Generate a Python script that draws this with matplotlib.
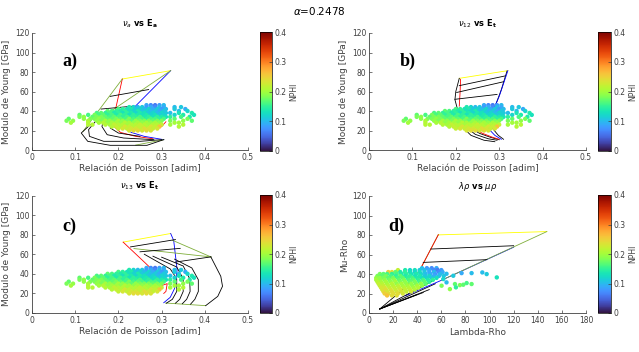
import matplotlib
matplotlib.use("Agg")
import matplotlib.pyplot as plt
import numpy as np

# ---- scatter cloud shared by panels a, b, c (Poisson vs Young) ----
# one entry per y level: the x values and the NPHI of each point
row_y = [46, 44, 42, 40, 38, 36, 34, 32, 30, 28, 26, 24, 22, 20]
row_x = [
    [0.265, 0.275, 0.285, 0.295, 0.305],
    [0.225, 0.235, 0.245, 0.255, 0.265, 0.275, 0.285, 0.295, 0.305, 0.33, 0.345],
    [0.20, 0.21, 0.22, 0.23, 0.24, 0.25, 0.26, 0.27, 0.28, 0.29, 0.30, 0.31, 0.33, 0.355],
    [0.175, 0.185, 0.195, 0.205, 0.215, 0.225, 0.235, 0.245, 0.255, 0.265, 0.275, 0.285,
     0.295, 0.305, 0.34, 0.36],
    [0.15, 0.16, 0.17, 0.18, 0.19, 0.20, 0.21, 0.22, 0.23, 0.24, 0.25, 0.26, 0.27, 0.28,
     0.29, 0.30, 0.31, 0.32, 0.34, 0.37],
    [0.11, 0.13, 0.145, 0.155, 0.165, 0.175, 0.185, 0.195, 0.205, 0.215, 0.225, 0.235,
     0.245, 0.255, 0.265, 0.275, 0.285, 0.295, 0.305, 0.33, 0.35, 0.375],
    [0.11, 0.12, 0.14, 0.15, 0.16, 0.17, 0.18, 0.19, 0.20, 0.21, 0.22, 0.23, 0.24, 0.25,
     0.26, 0.27, 0.28, 0.29, 0.30, 0.31, 0.32, 0.345, 0.365],
    [0.085, 0.12, 0.135, 0.145, 0.155, 0.165, 0.175, 0.185, 0.195, 0.205, 0.215, 0.225,
     0.235, 0.245, 0.255, 0.265, 0.275, 0.285, 0.295, 0.305, 0.33, 0.36],
    [0.08, 0.095, 0.13, 0.15, 0.16, 0.17, 0.18, 0.19, 0.20, 0.21, 0.22, 0.23, 0.24, 0.25,
     0.26, 0.27, 0.28, 0.29, 0.30, 0.32, 0.35, 0.37],
    [0.09, 0.13, 0.155, 0.165, 0.175, 0.185, 0.195, 0.205, 0.215, 0.225, 0.235, 0.245,
     0.255, 0.265, 0.275, 0.285, 0.295, 0.33, 0.34],
    [0.13, 0.14, 0.17, 0.18, 0.19, 0.20, 0.21, 0.22, 0.23, 0.24, 0.25, 0.26, 0.27, 0.28,
     0.29, 0.30, 0.32, 0.35],
    [0.185, 0.195, 0.205, 0.215, 0.225, 0.235, 0.245, 0.255, 0.265, 0.275, 0.285, 0.295, 0.34],
    [0.20, 0.21, 0.22, 0.23, 0.24, 0.25, 0.26, 0.27, 0.28, 0.29],
    [0.225, 0.235, 0.245, 0.255, 0.265, 0.275],
]
row_phi = [
    [0.09, 0.07, 0.06, 0.08, 0.10],
    [0.14, 0.12, 0.10, 0.11, 0.08, 0.09, 0.07, 0.10, 0.09, 0.10, 0.11],
    [0.16, 0.15, 0.13, 0.14, 0.11, 0.12, 0.10, 0.12, 0.09, 0.11, 0.08, 0.10, 0.11, 0.09],
    [0.17, 0.16, 0.15, 0.14, 0.15, 0.13, 0.12, 0.14, 0.11, 0.12, 0.10, 0.11, 0.09, 0.11,
     0.10, 0.12],
    [0.16, 0.17, 0.15, 0.16, 0.14, 0.15, 0.13, 0.15, 0.14, 0.12, 0.14, 0.13, 0.11, 0.12,
     0.10, 0.12, 0.11, 0.10, 0.13, 0.14],
    [0.17, 0.16, 0.18, 0.16, 0.17, 0.15, 0.16, 0.14, 0.16, 0.15, 0.13, 0.15, 0.14, 0.13,
     0.14, 0.12, 0.13, 0.11, 0.12, 0.12, 0.14, 0.13],
    [0.18, 0.19, 0.17, 0.18, 0.18, 0.17, 0.16, 0.17, 0.16, 0.15, 0.16, 0.15, 0.15, 0.16,
     0.14, 0.15, 0.13, 0.15, 0.14, 0.13, 0.15, 0.16, 0.14],
    [0.17, 0.19, 0.18, 0.18, 0.19, 0.18, 0.17, 0.17, 0.18, 0.17, 0.16, 0.18, 0.16, 0.17,
     0.16, 0.15, 0.16, 0.16, 0.15, 0.16, 0.17, 0.18],
    [0.18, 0.19, 0.20, 0.19, 0.18, 0.20, 0.19, 0.18, 0.20, 0.19, 0.18, 0.17, 0.19, 0.18,
     0.18, 0.18, 0.17, 0.18, 0.18, 0.18, 0.19, 0.17],
    [0.20, 0.21, 0.20, 0.21, 0.19, 0.20, 0.20, 0.19, 0.21, 0.20, 0.19, 0.20, 0.19, 0.20,
     0.19, 0.20, 0.19, 0.20, 0.20],
    [0.21, 0.21, 0.21, 0.20, 0.22, 0.21, 0.21, 0.20, 0.21, 0.21, 0.22, 0.21, 0.20, 0.21,
     0.21, 0.22, 0.20, 0.21],
    [0.21, 0.22, 0.21, 0.23, 0.22, 0.21, 0.22, 0.22, 0.21, 0.23, 0.22, 0.26, 0.21],
    [0.22, 0.23, 0.22, 0.23, 0.23, 0.22, 0.24, 0.23, 0.22, 0.23],
    [0.23, 0.24, 0.24, 0.23, 0.24, 0.23],
]

# ---- scatter cloud of panel d (Lambda-Rho vs Mu-Rho) ----
d_row_y = [46, 44, 42, 40, 38, 36, 34, 32, 30, 28, 26, 24, 22, 20, 18]
d_row_x = [
    [44, 48, 52, 56],
    [24, 30, 34, 38, 42, 46, 50, 54, 57, 60],
    [16, 19, 22, 26, 30, 34, 38, 42, 46, 50, 54, 58, 61],
    [9, 12, 15, 19, 23, 27, 31, 35, 39, 43, 47, 51, 55, 59],
    [7, 10, 14, 18, 22, 26, 30, 34, 38, 42, 46, 50, 54, 58, 62],
    [6, 9, 12, 16, 20, 24, 28, 32, 36, 40, 44, 48, 52, 56],
    [6, 9, 13, 17, 21, 25, 29, 33, 37, 41, 45, 49, 53],
    [7, 10, 14, 18, 22, 26, 30, 34, 38, 42, 46, 50],
    [8, 11, 15, 19, 23, 27, 31, 35, 39, 43, 47],
    [9, 12, 16, 20, 24, 28, 32, 36, 40, 44],
    [10, 13, 17, 21, 25, 29, 33, 37, 41],
    [11, 14, 18, 22, 26, 30, 34, 38],
    [12, 15, 19, 23, 27, 31, 35],
    [13, 16, 20, 24, 28],
    [15, 19, 23],
]
d_row_phi = [
    [0.10, 0.08, 0.07, 0.09],
    [0.22, 0.14, 0.12, 0.13, 0.11, 0.10, 0.09, 0.07, 0.06, 0.08],
    [0.25, 0.24, 0.17, 0.14, 0.15, 0.13, 0.12, 0.13, 0.11, 0.09, 0.10, 0.07, 0.09],
    [0.18, 0.17, 0.16, 0.15, 0.16, 0.14, 0.15, 0.13, 0.14, 0.12, 0.10, 0.09, 0.08, 0.10],
    [0.18, 0.17, 0.18, 0.16, 0.15, 0.17, 0.14, 0.15, 0.13, 0.14, 0.11, 0.12, 0.09, 0.10, 0.11],
    [0.19, 0.19, 0.18, 0.17, 0.18, 0.16, 0.17, 0.15, 0.16, 0.14, 0.13, 0.12, 0.11, 0.13],
    [0.20, 0.19, 0.19, 0.18, 0.19, 0.17, 0.18, 0.16, 0.17, 0.15, 0.16, 0.14, 0.15],
    [0.21, 0.20, 0.20, 0.19, 0.20, 0.18, 0.19, 0.17, 0.18, 0.16, 0.17, 0.15],
    [0.22, 0.21, 0.20, 0.21, 0.19, 0.20, 0.19, 0.19, 0.18, 0.19, 0.17],
    [0.22, 0.22, 0.21, 0.21, 0.21, 0.20, 0.20, 0.19, 0.20, 0.19],
    [0.23, 0.23, 0.22, 0.22, 0.22, 0.21, 0.21, 0.20, 0.21],
    [0.23, 0.24, 0.23, 0.22, 0.23, 0.22, 0.22, 0.21],
    [0.24, 0.23, 0.24, 0.23, 0.23, 0.22, 0.23],
    [0.25, 0.24, 0.24, 0.24, 0.23],
    [0.26, 0.24, 0.24],
]
d_out_x = [64.3, 69.9, 76.8, 85.1, 94.0, 97.6, 106.0, 61.6, 64.3,
           71.3, 75.4, 78.2, 81.0, 85.1, 72.1, 60.2, 67.1]
d_out_y = [40.2, 38.2, 40.9, 40.9, 41.6, 39.9, 36.5, 34.8, 31.4,
           29.7, 28.6, 29.0, 30.7, 29.7, 26.3, 28.0, 24.5]
d_out_phi = [0.10, 0.11, 0.09, 0.10, 0.10, 0.11, 0.13, 0.12, 0.10,
             0.17, 0.18, 0.17, 0.16, 0.17, 0.15, 0.18, 0.19]

# ---- template lines (color, x, y) ----
GREEN = '#7fae3a'
a_lines = [
    ('#ffff00', [0.209, 0.321], [72.8, 81.4]),
    ('red', [0.209, 0.193, 0.19, 0.19, 0.205, 0.24, 0.28], [72.8, 41, 30, 24, 18, 14, 11.5]),
    ('red', [0.300, 0.310], [24, 29]),
    ('blue', [0.321, 0.235, 0.21, 0.21, 0.23, 0.26, 0.305], [81.4, 43, 30, 24, 18, 14, 10.6]),
    (GREEN, [0.209, 0.118], [72.8, 19]),
    (GREEN, [0.321, 0.15], [81.4, 30]),
    (GREEN, [0.24, 0.305], [5, 10.6]),
    ('k', [0.181, 0.27], [55, 62]),
    ('k', [0.16, 0.235], [42, 45]),
    ('k', [0.135, 0.114, 0.129, 0.181, 0.266, 0.305], [26, 17.4, 8.9, 4.8, 4.8, 10.6]),
    ('k', [0.150, 0.131, 0.133, 0.166, 0.25, 0.30], [31, 20.9, 14, 8.9, 8.9, 10.6]),
    ('k', [0.166, 0.162, 0.174, 0.212, 0.282], [34.5, 24, 15.7, 12.3, 10.6]),
    ('k', [0.185, 0.181, 0.2, 0.25], [31, 22.6, 17.4, 14]),
]
b_lines = [
    ('#ffff00', [0.208, 0.320], [73.5, 81.4]),
    ('k', [0.208, 0.200, 0.198, 0.205], [73.5, 60, 51.6, 40]),
    ('red', [0.211, 0.210, 0.208], [72.5, 60, 45]),
    ('k', [0.208, 0.314], [66, 76]),
    ('k', [0.202, 0.31], [59, 70]),
    ('k', [0.198, 0.295], [52, 57]),
    ('k', [0.318, 0.305, 0.29], [81, 62, 44]),
    ('blue', [0.320, 0.30, 0.285, 0.28], [81.4, 55, 40, 30]),
    ('k', [0.205, 0.212, 0.235, 0.265, 0.29], [40, 25, 15, 10, 8.5]),
    ('k', [0.215, 0.222, 0.245, 0.275, 0.295], [35, 24, 16, 11.5, 10]),
    ('k', [0.225, 0.232, 0.255, 0.28, 0.30], [32, 23, 17, 13, 10.5]),
    ('red', [0.23, 0.24, 0.262, 0.285, 0.30], [30, 22, 17, 13, 11]),
    ('blue', [0.27, 0.275, 0.29, 0.305], [35, 22, 15, 11]),
    ('k', [0.28, 0.285, 0.298, 0.31], [35, 22, 15, 11]),
]
c_lines = [
    ('#ffff00', [0.211, 0.321], [72.4, 81.2]),
    ('red', [0.211, 0.278, 0.30], [72.4, 44.5, 35]),
    ('red', [0.30, 0.313, 0.31, 0.305], [28, 30, 22, 20]),
    ('blue', [0.321, 0.328, 0.336, 0.33, 0.32, 0.305], [81.2, 74, 44, 25, 16, 10.5]),
    (GREEN, [0.325, 0.414], [74.3, 57.3]),
    (GREEN, [0.236, 0.414], [65.8, 57.3]),
    (GREEN, [0.309, 0.402], [10.2, 7.5]),
    ('k', [0.414, 0.437, 0.441, 0.43, 0.402], [57.3, 37.5, 27.3, 17, 7.5]),
    ('k', [0.228, 0.332], [67.5, 75]),
    ('k', [0.25, 0.343], [62.5, 66]),
    ('k', [0.332, 0.414], [52, 57.3]),
    ('k', [0.26, 0.32, 0.335, 0.335, 0.325, 0.311], [60, 45, 35, 22, 14, 10]),
    ('k', [0.28, 0.335, 0.35, 0.35, 0.342, 0.332], [58, 47, 35, 22, 14, 10]),
    ('k', [0.30, 0.35, 0.365, 0.366, 0.358, 0.348], [57, 48, 35, 22, 14, 9.5]),
    ('k', [0.33, 0.37, 0.385, 0.385, 0.377, 0.367], [55, 46, 34, 22, 14, 9]),
]
d_lines = [
    ('#ffff00', [57.4, 147.5], [80.1, 83.5]),
    ('k', [8.9, 30], [4.1, 26]),
    (GREEN, [30, 42.3, 57.5], [26, 44.4, 80.3]),
    ('red', [42.3, 57.5], [44.4, 80.3]),
    ('k', [8.9, 55], [4.1, 30]),
    ('blue', [30, 60, 120], [17.6, 33.5, 67.5]),
    (GREEN, [60, 147.5], [33.5, 83.5]),
    ('k', [51.3, 120], [65.6, 69]),
    ('k', [45, 97.8], [51.9, 54.7]),
    ('k', [8.9, 45], [4.1, 21]),
    ('k', [8.9, 50], [4.1, 24]),
    ('k', [8.9, 52], [4.1, 32.4]),
    ('k', [8.9, 40], [4.1, 19]),
]

# flatten the rows for scatter
cloud_x = [x for xs in row_x for x in xs]
cloud_y = [y for y, xs in zip(row_y, row_x) for _ in xs]
cloud_c = [p for ps in row_phi for p in ps]
dcl_x = [x for xs in d_row_x for x in xs] + d_out_x
dcl_y = [y for y, xs in zip(d_row_y, d_row_x) for _ in xs] + d_out_y
dcl_c = [p for ps in d_row_phi for p in ps] + d_out_phi

W, H = 639, 352
fig = plt.figure(figsize=(W / 100, H / 100), dpi=100)


def px_box(l, t, r, b):
    return [l / W, 1 - b / H, (r - l) / W, (b - t) / H]


panels = [
    dict(box=(32, 33, 248, 150), cbox=(260, 32, 272, 151), lines=a_lines, d=False,
         title=r'$\nu_a$ vs E$_\mathbf{a}$', tag='a)', tagpos=(0.07, 91)),
    dict(box=(369, 33, 586, 150), cbox=(598, 32, 610.5, 151), lines=b_lines, d=False,
         title=r'$\nu_{12}$ vs E$_\mathbf{t}$', tag='b)', tagpos=(0.07, 91)),
    dict(box=(32, 195.5, 248, 313), cbox=(260, 195, 272, 313), lines=c_lines, d=False,
         title=r'$\nu_{13}$ vs E$_\mathbf{t}$', tag='c)', tagpos=(0.07, 89)),
    dict(box=(369, 196, 586, 313), cbox=(598, 195, 610.5, 313), lines=d_lines, d=True,
         title=r'$\lambda\rho$ vs $\mu\rho$', tag='d)', tagpos=(16, 89)),
]

tick_col = '#404040'
for p in panels:
    ax = fig.add_axes(px_box(*p['box']))
    for col, xs, ys in p['lines']:
        ax.plot(xs, ys, color=col, lw=0.6, zorder=2)
    if p['d']:
        sc = ax.scatter(dcl_x, dcl_y, c=dcl_c, cmap='turbo', vmin=0, vmax=0.4,
                        s=10, edgecolors='none', zorder=3)
        ax.set_xlim(0, 180)
        ax.set_xticks(np.arange(0, 181, 20))
        ax.set_xlabel('Lambda-Rho', fontsize=6.5, color=tick_col, labelpad=2)
        ax.set_ylabel('Mu-Rho', fontsize=6.5, color=tick_col, labelpad=2)
    else:
        sc = ax.scatter(cloud_x, cloud_y, c=cloud_c, cmap='turbo', vmin=0, vmax=0.4,
                        s=10, edgecolors='none', zorder=3)
        ax.set_xlim(0, 0.5)
        ax.set_xticks([0, 0.1, 0.2, 0.3, 0.4, 0.5])
        ax.set_xticklabels(['0', '0.1', '0.2', '0.3', '0.4', '0.5'])
        ax.set_xlabel('Relación de Poisson [adim]', fontsize=6.5, color=tick_col, labelpad=2)
        ax.set_ylabel('Modulo de Young [GPa]', fontsize=6.5, color=tick_col, labelpad=3)
    ax.set_ylim(0, 120)
    ax.set_yticks(np.arange(0, 121, 20))
    for s in ['top', 'right']:
        ax.spines[s].set_visible(False)
    for s in ['left', 'bottom']:
        ax.spines[s].set_linewidth(0.6)
        ax.spines[s].set_color(tick_col)
    ax.tick_params(direction='in', length=2, width=0.5, labelsize=5.5,
                   colors=tick_col, pad=2)
    ax.set_title(p['title'], fontsize=6, fontweight='bold', pad=5)
    ax.text(p['tagpos'][0], p['tagpos'][1], p['tag'], family='Liberation Serif',
            fontweight='bold', fontsize=13, va='center', ha='left')

    cax = fig.add_axes(px_box(*p['cbox']))
    cb = fig.colorbar(sc, cax=cax)
    cb.set_ticks([0, 0.1, 0.2, 0.3, 0.4])
    cb.set_ticklabels(['0', '0.1', '0.2', '0.3', '0.4'])
    cb.outline.set_linewidth(0.5)
    cax.tick_params(direction='in', length=2, width=0.5, labelsize=5.5,
                    colors=tick_col, pad=2)
    cb.set_label('NPHI', fontsize=5.5, color=tick_col, labelpad=2)

fig.text(0.5, 1 - 11 / H, r'$\alpha$=0.2478', ha='center', va='center', fontsize=7.5)

fig.savefig('out.png', dpi=100)
